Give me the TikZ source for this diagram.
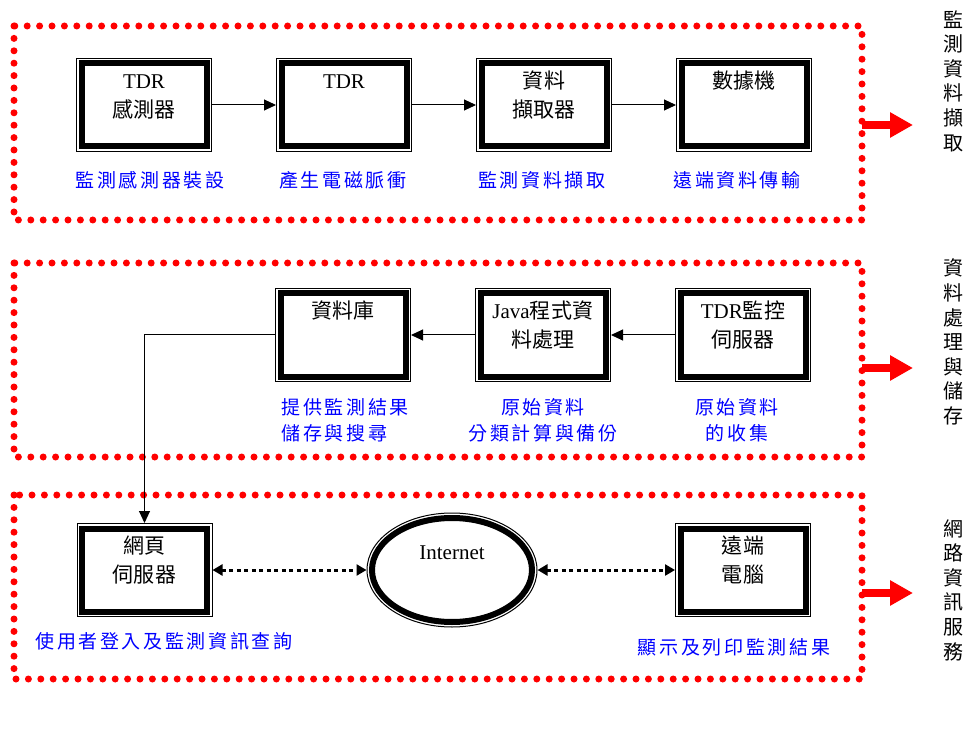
\documentclass[tikz,border=0pt]{standalone}
\usepackage{fontspec}
\setmainfont{Noto Sans CJK TC}
\newfontfamily\tnr{Liberation Serif}
\usepackage{tikz}
\usetikzlibrary{arrows.meta, positioning, shapes.geometric}

\newcommand{\boxfont}{\fontsize{10.5}{14.5}\selectfont\addfontfeature{LetterSpace=2}}
\newcommand{\notefont}{\fontsize{9.5}{13}\selectfont\addfontfeature{LetterSpace=14}}
\newcommand{\sidefont}{\fontsize{10}{12.3}\selectfont}

\begin{document}
\begin{tikzpicture}[
        x=0.5pt, y=-0.5pt,
        blk/.style={draw, line width=0.5pt, fill=white, minimum width=67.5pt, inner xsep=2pt, inner ysep=0pt,
            text height=15pt, text depth=31.5pt, align=center, anchor=north, font=\boxfont,
            path picture={\draw[line width=3pt] ([shift={(2.5pt,-2.5pt)}]path picture bounding box.north west) rectangle ([shift={(-2.5pt,2.5pt)}]path picture bounding box.south east);}},
        blk2/.style={blk, text height=29.5pt, text depth=17pt},
        net/.style={ellipse, draw, line width=0.5pt, fill=white, minimum width=85pt, minimum height=57pt, inner sep=2pt,
            text height=8pt, text depth=19pt, font=\tnr\fontsize{10.5}{12}\selectfont,
            path picture={\draw[line width=3pt] (path picture bounding box.center) ellipse [x radius=40pt, y radius=26pt];}},
        note/.style={text=blue, font=\notefont, align=center, inner sep=1pt},
        side/.style={font=\sidefont, align=center, inner sep=0pt},
        frame/.style={red, line width=3.5pt, line cap=round, dash pattern=on 0pt off 6.2pt},
        arr/.style={-{Triangle[length=6pt, width=5.5pt]}, line width=0.5pt},
        dotarr/.style={{Triangle[length=5pt, width=5.5pt]}-{Triangle[length=5pt, width=5.5pt]}, line width=1.5pt, dash pattern=on 2pt off 1.75pt},
        bigarr/.style={-{Triangle[length=11.5pt, width=12pt]}, red, line width=4pt},
        node distance=32pt
    ]
    \useasboundingbox (0,0) rectangle (968,753);

    % dotted frames
    \draw[frame] (14,26) rectangle (862,220);
    \draw[frame] (14,263) rectangle (862,457);
    \draw[frame] (14,495) rectangle (862,679);

    % row 1
    \node[blk2] (sensor) at (144,58) {{\tnr TDR}\\感測器};
    \node[blk, right=of sensor] (tdr) {{\tnr TDR}};
    \node[blk2, right=of tdr] (logger) {資料\\擷取器};
    \node[blk, right=of logger] (modem) {數據機};
    \draw[arr] (sensor) -- (tdr);
    \draw[arr] (tdr) -- (logger);
    \draw[arr] (logger) -- (modem);

    \node[note] (n1) at (150,180) {監測感測器裝設};
    \node[note] (n2) at (343,180) {產生電磁脈衝};
    \node[note] (n3) at (542,180) {監測資料擷取};
    \node[note] (n4) at (737,180) {遠端資料傳輸};

    % row 2
    \node[blk2] (srv) at (743,288) {{\tnr TDR}監控\\伺服器};
    \node[blk2, left=of srv] (java) {{\tnr Java}程式資\\料處理};
    \node[blk, left=of java] (db) {資料庫};
    \draw[arr] (srv) -- (java);
    \draw[arr] (java) -- (db);

    \node[note, align=left, anchor=west] (n5) at (279,420) {提供監測結果\\儲存與搜尋};
    \node[note] (n6) at (543,420) {原始資料\\分類計算與備份};
    \node[note] (n7) at (737,420) {原始資料\\的收集};

    % row 3
    \node[blk2] (web) at (144.5,523) {網頁\\伺服器};
    \node[net] (inet) at (452,570) {Internet};
    \node[blk2] (pc) at (743,523) {遠端\\電腦};
    \draw[arr] (db.west) -| (web.north);
    \draw[dotarr] (web) -- (inet);
    \draw[dotarr] (inet) -- (pc);

    \node[note] (n8) at (164,641) {使用者登入及監測資訊查詢};
    \node[note] (n9) at (734,647) {顯示及列印監測結果};

    % stage labels
    \node[side] (s1) at (953,81) {監\\測\\資\\料\\擷\\取};
    \node[side] (s2) at (953,342) {資\\料\\處\\理\\與\\儲\\存};
    \node[side] (s3) at (953,590) {網\\路\\資\\訊\\服\\務};
    \coordinate (a1) at (862,125);
    \coordinate (b1) at (913,125);
    \coordinate (a2) at (862,368);
    \coordinate (b2) at (913,368);
    \coordinate (a3) at (862,593);
    \coordinate (b3) at (913,593);
    \draw[bigarr] (a1) -- (b1);
    \draw[bigarr] (a2) -- (b2);
    \draw[bigarr] (a3) -- (b3);
\end{tikzpicture}
\end{document}
